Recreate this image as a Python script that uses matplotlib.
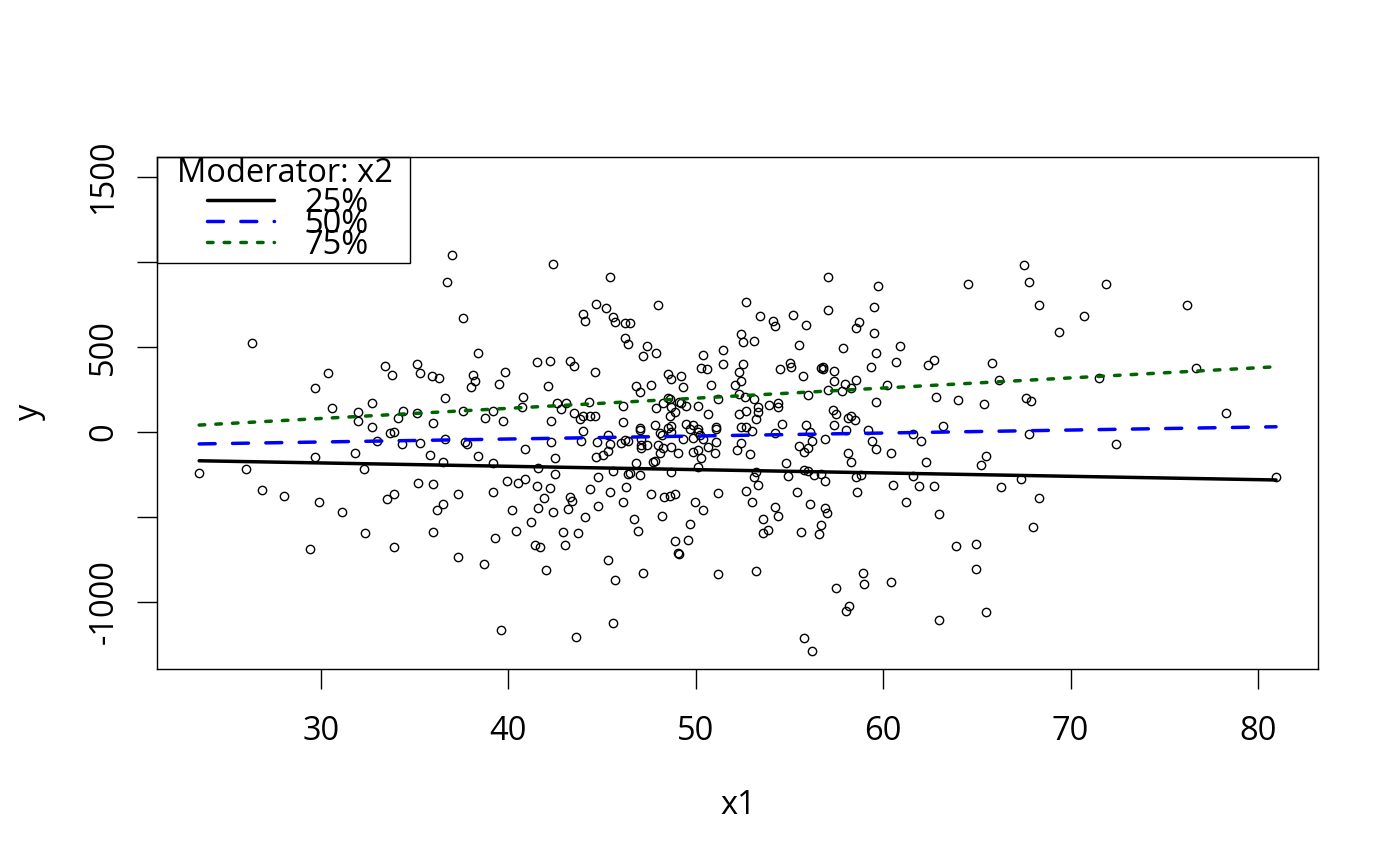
import matplotlib.pyplot as plt
from matplotlib.patches import Rectangle

plt.rcParams['font.family'] = ['Open Sans', 'DejaVu Sans']

# scatter values (x1 = predictor, y = response)
x1 = [23.5, 26.0, 26.3, 26.85, 28.0, 29.7, 29.7, 29.9, 29.4, 30.4,
      30.6, 31.1, 31.8, 32.0, 32.0, 32.3, 32.35, 32.7, 32.7, 33.0,
      33.4, 33.5, 33.7, 33.8, 33.9, 33.9, 33.9, 34.1, 34.3, 34.4,
      35.1, 35.1, 35.2, 35.3, 35.3, 35.8, 35.9, 36.0, 36.0, 36.0,
      36.2, 36.3, 36.5, 36.5, 36.6, 36.6, 36.7, 37.0, 37.3, 37.3,
      37.6, 37.6, 37.7, 37.8, 38.1, 38.2, 38.0, 38.4, 38.4, 38.75,
      39.2, 39.2, 39.5, 39.7, 39.8, 40.7, 40.8, 40.9, 41.5, 42.1,
      42.2, 42.3, 42.3, 42.4, 42.5, 42.6, 42.8, 43.1, 43.3, 43.5,
      43.5, 43.8, 44.0, 44.1, 44.0, 44.35, 44.6, 44.3, 44.0, 43.9,
      44.6, 44.7, 45.2, 45.4, 45.6, 45.7, 46.2, 46.5, 46.2, 46.4,
      47.2, 47.4, 47.9, 48.0, 45.3, 45.4, 45.3, 46.1, 46.1, 46.8,
      47.0, 47.6, 48.5, 48.7, 49.2, 49.3, 48.25, 48.6, 48.7, 49.1,
      49.2, 49.5, 48.9, 48.6, 47.9, 47.8, 47.0, 47.0, 48.5, 48.7,
      48.1, 48.2, 49.5, 49.7, 49.85, 50.1, 50.1, 50.3, 50.6, 50.4,
      50.8, 51.1, 51.1, 50.1, 50.65, 51.2, 51.45, 51.45, 52.4, 52.5,
      52.5, 52.3, 52.4, 52.1, 52.3, 52.6, 52.3, 52.7, 52.4, 52.7,
      52.7, 45.05, 46.0, 46.2, 46.4, 47.1, 47.1, 47.1, 46.8, 46.5,
      47.0, 48.0, 48.1, 48.25, 48.5, 48.7, 48.7, 49.05, 48.7, 49.3,
      49.85, 50.1, 50.3, 50.1, 50.4, 50.65, 51.1, 51.0, 52.2, 41.6,
      42.5, 39.2, 39.9, 40.5, 40.9, 41.5, 42.2, 41.9, 41.6, 40.2,
      41.2, 40.4, 39.3, 41.4, 41.7, 42.9, 43.0, 43.7, 42.4, 43.2,
      43.3, 43.4, 44.1, 44.35, 44.8, 44.8, 45.4, 45.6, 46.1, 46.3,
      46.4, 47.6, 46.7, 46.9, 48.2, 48.3, 48.6, 48.9, 49.7, 49.95,
      50.4, 49.6, 48.9, 49.05, 49.1, 51.2, 52.7, 53.0, 38.7, 42.0,
      45.3, 45.7, 47.2, 51.2, 39.6, 43.6, 45.6, 44.75, 44.7, 47.4,
      47.7, 47.8, 49.85, 50.2, 52.4,
      67.5, 67.8, 68.3, 64.5, 57.05, 59.7, 53.4, 54.1, 54.2, 55.2,
      55.9, 57.05, 59.5, 58.7, 58.55, 59.5, 53.1, 55.5, 57.85, 59.6,
      60.9, 60.7, 62.4, 62.7, 65.8, 66.2, 54.5, 55.0, 55.1, 55.7,
      56.7, 56.8, 56.8, 57.4, 57.4, 57.96, 58.55, 58.3, 57.8, 57.05,
      59.35, 60.2, 56.0, 53.1, 53.3, 53.3, 53.2, 53.9, 54.4, 54.4,
      54.6, 54.2, 55.9, 56.1, 57.3, 57.5, 57.4, 58.1, 58.3, 58.5,
      58.0, 59.2, 59.6, 62.8, 64.0, 65.4, 67.6, 67.9, 63.2, 61.6,
      67.8, 53.0,
      71.9, 70.7, 69.4, 76.2, 76.7, 71.5, 78.3, 72.4, 80.96, 68.3,
      68.0,
      62.0, 52.9, 55.5, 56.0, 56.2, 56.9, 55.8, 59.4, 59.6, 58.1,
      58.3, 60.4, 62.3, 65.2, 65.5, 54.8, 53.2, 53.1, 53.3, 54.9,
      55.8, 56.0, 56.3, 56.7, 56.9, 58.55, 58.8, 58.6, 60.5, 61.6,
      61.9, 62.7, 66.3, 67.35, 55.4, 56.1, 54.2, 54.4, 56.9, 57.0,
      53.6, 53.85, 53.6, 55.6, 56.7, 56.6, 61.2, 63.0, 63.9, 64.95,
      64.95, 53.2, 57.5, 58.9, 59.0, 60.4, 58.0, 58.2, 63.0, 65.5,
      55.8, 56.2]

y = [-241, -218, 523, -341, -376, 259, -147, -412, -688, 347,
     141, -470, -124, 65, 118, -218, -594, 171, 29, -53,
     388, -394, -6, 335, 0, -365, -676, 82, -71, 124,
     400, 112, -300, 347, -65, -135, 329, 53, -306, -588,
     -459, 318, -424, -176, 200, -41, 882, 1041, -365, -735,
     671, 124, -59, -71, 335, 300, 265, 465, -141, 82,
     124, -182, 282, 65, 353, 147, 206, -100, 412, 271,
     418, 65, -59, 988, -153, 171, 135, 171, 418, 388,
     112, 76, 694, 653, 94, 94, 94, 176, 6, -53,
     353, 753, 729, 912, 676, 647, 641, 641, 553, 518,
     447, 506, 465, 747, -18, -71, -112, 153, 59, 271,
     235, 276, 341, 312, 329, 265, 171, 194, 147, 176,
     171, 153, 118, 94, 141, 41, 24, 12, 24, 35,
     -6, -18, 47, 18, 41, 18, 0, 376, 371, 453,
     276, 29, 18, 153, 106, 194, 482, 400, 576, 529,
     400, 353, 300, 276, 224, 206, 106, 124, 29, 29,
     765, -135, -65, -47, -53, -41, -76, -94, -182, -241,
     -253, -76, -124, -94, 200, 0, -88, -124, -235, -41,
     -118, -106, -153, -206, -41, -88, -59, -124, -106, -212,
     -247, -353, -288, -300, -276, -318, -329, -388, -447, -459,
     -529, -582, -623, -665, -676, -588, -665, -594, -470, -453,
     -382, -406, -500, -335, -265, -435, -353, -229, -412, -324,
     -247, -365, -512, -582, -494, -382, -376, -365, -541, -412,
     -459, -635, -641, -712, -718, -359, -347, -412, -776, -812,
     -753, -870, -829, -835, -1165, -1206, -1123, -59, -147, -76,
     -176, -170, -35, -18, -65,
     982, 882, 747, 871, 912, 859, 682, 653, 624, 688,
     629, 718, 735, 647, 612, 582, 535, 512, 494, 465,
     506, 412, 394, 424, 406, 306, 371, 406, 382, 329,
     376, 382, 371, 359, 300, 282, 306, 259, 241, 247,
     382, 276, 218, 194, 147, 118, 76, 159, 171, 147,
     47, -6, 41, 0, 129, 106, 41, 82, 94, 71,
     12, 12, 176, 206, 188, 165, 200, 182, 35, -12,
     -12, 6,
     871, 682, 588, 747, 376, 318, 112, -71, -265, -388,
     -559,
     -53, -129, -82, -94, -53, -41, -118, -53, -100, -124,
     -176, -124, -176, -194, -141, -182, -235, -265, -312, -259,
     -224, -229, -253, -247, -288, -265, -253, -353, -312, -259,
     -318, -318, -324, -276, -353, -424, -441, -494, -447, -476,
     -512, -576, -594, -588, -547, -600, -412, -482, -671, -659,
     -806, -818, -918, -829, -894, -882, -1053, -1023, -1106, -1059,
     -1212, -1288]

# simple slopes of y on x1 at three moderator levels (end points)
line_x = [23.5, 80.96]
fit_25 = [-169, -282]
fit_50 = [-70, 31]
fit_75 = [41, 384]
levels = ['25%', '50%', '75%']
styles = [dict(color='black', linestyle='-'),
          dict(color='#0000ff', linestyle=(0, (4.6, 5.0))),
          dict(color='#006400', linestyle=(0, (1.6, 3.2)))]

fig = plt.figure(figsize=(14, 8.66), dpi=100)
ax = fig.add_axes([157 / 1400, 1 - 669 / 866, 1161 / 1400, 512 / 866])

ax.plot(x1, y, 'o', mfc='none', mec='black', ms=6.0, mew=1.0, linestyle='none')
for fit, st in zip([fit_25, fit_50, fit_75], styles):
    ax.plot(line_x, fit, lw=2.5, dash_capstyle='round', solid_capstyle='round', **st)

ax.set_xlim(21.25, 83.2)
ax.set_ylim(-1394, 1618)
ax.set_xticks([30, 40, 50, 60, 70, 80])
ax.set_yticks([1500, 1000, 500, 0, -500, -1000])
ax.set_yticklabels(['1500', '', '500', '0', '', '-1000'], rotation=90, va='center')
ax.tick_params(axis='both', direction='out', length=14.4, width=1, labelsize=23.5)
ax.tick_params(axis='x', pad=19)
ax.tick_params(axis='y', pad=12)
for sp in ax.spines.values():
    sp.set_linewidth(1)

fig.text(738 / 1400, 1 - 805 / 866, 'x1', ha='center', va='center', fontsize=23.5)
fig.text(30 / 1400, 1 - 413 / 866, 'y', ha='center', va='center', fontsize=23.5, rotation=90)

# legend drawn by hand to mimic the R layout (overlapping rows)
ax.add_patch(Rectangle((0, 0.793), 0.2179, 0.207, transform=ax.transAxes,
                       fill=False, lw=1, edgecolor='black', clip_on=False))
ax.text(0.1105, 0.951, 'Moderator: x2', transform=ax.transAxes, ha='center',
        va='baseline', fontsize=23.5, clip_on=False)
row_y = [0.916, 0.875, 0.834]
text_y = [0.8926, 0.8516, 0.8105]
for lab, st, ly, ty in zip(levels, styles, row_y, text_y):
    ax.plot([0.0431, 0.1008], [ly, ly], transform=ax.transAxes, lw=2.5,
            dash_capstyle='round', solid_capstyle='round', clip_on=False, **st)
    ax.text(0.1272, ty, lab, transform=ax.transAxes, ha='left', va='baseline',
            fontsize=23.5, clip_on=False)

fig.savefig('out.png', dpi=100)
